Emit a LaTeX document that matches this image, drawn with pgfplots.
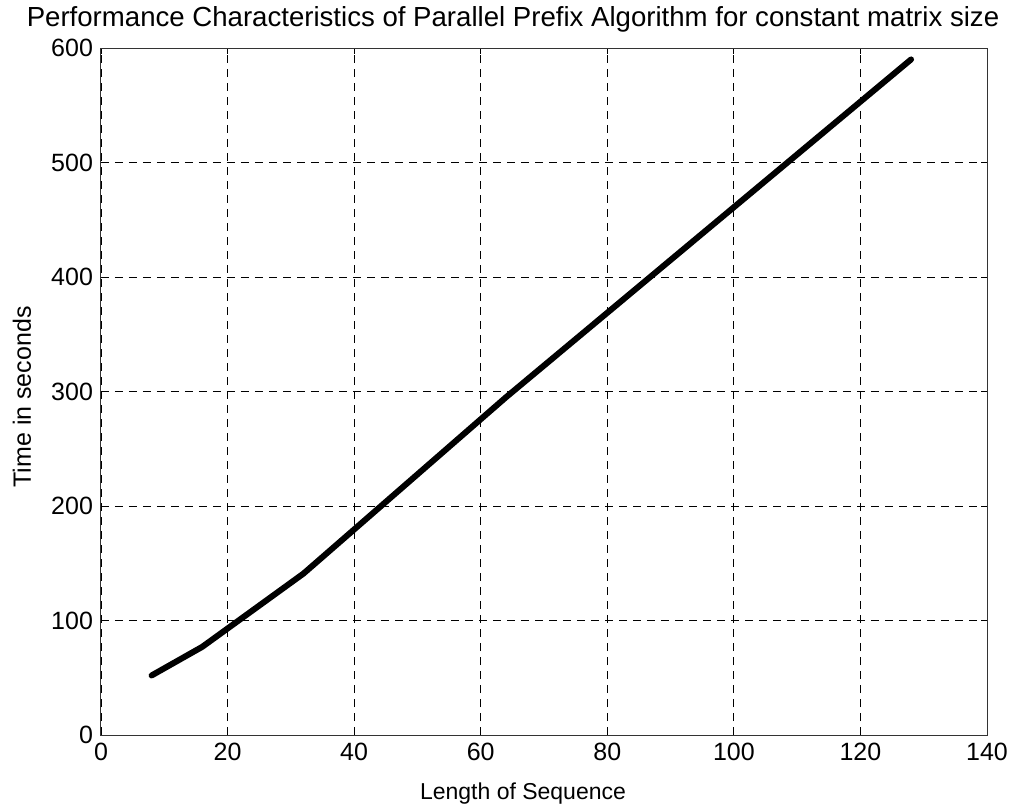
\documentclass[border=0pt]{standalone}
\usepackage{fontspec}
\setmainfont{Liberation Sans}
\usepackage{pgfplots}
\pgfplotsset{compat=1.18}
\begin{document}
\begin{tikzpicture}
\useasboundingbox (-50.5pt,-37pt) rectangle (456pt,367.5pt);
\begin{axis}[
  at={(0,0)}, anchor=south west,
  scale only axis, width=443pt, height=343.5pt,
  xmin=0, xmax=140, ymin=0, ymax=600,
  xtick={0,20,...,140}, ytick={0,100,...,600},
  grid=major,
  major grid style={dash pattern=on 4pt off 3pt, black, line width=0.4pt},
  axis line style={line width=0.5pt, black!80},
  tick align=inside, major tick length=3pt,
  tick style={black, line width=0.4pt},
  /pgf/number format/assume math mode=true,
  ticklabel style={font=\fontsize{12.5}{14}\selectfont},
  xticklabel style={yshift=-0.5pt},
  yticklabel style={xshift=-0.5pt},
]
\addplot[black, line width=3pt, line join=round, line cap=round] coordinates {
  (8,52) (16,77) (32,141) (64,295) (128,590)
};
\end{axis}
\node[anchor=base, font=\fontsize{13.8}{16}\selectfont] at (206pt,354pt) {Performance Characteristics of Parallel Prefix Algorithm for constant matrix size};
\node[anchor=base, font=\fontsize{11.5}{13}\selectfont] at (211pt,-32.5pt) {Length of Sequence};
\node[anchor=base, rotate=90, font=\fontsize{12.5}{14}\selectfont] at (-35pt,169pt) {Time in seconds};
\end{tikzpicture}
\end{document}
